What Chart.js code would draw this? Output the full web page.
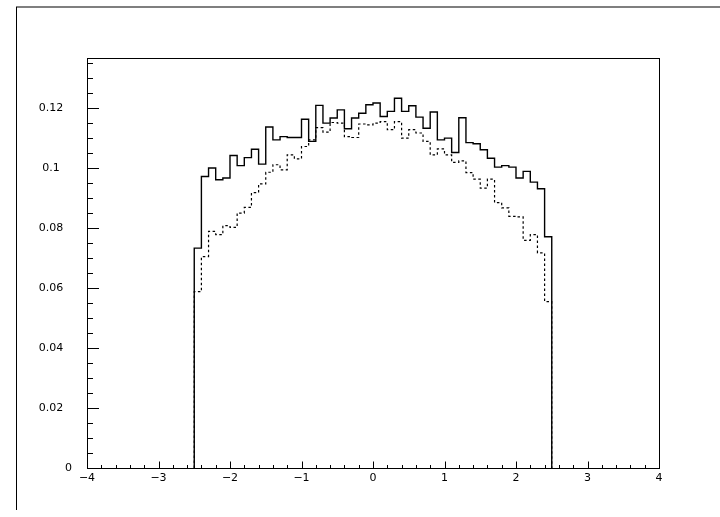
<!DOCTYPE html>
<html>
<head>
<meta charset="utf-8">
<script src="https://cdn.jsdelivr.net/npm/chart.js@4.4.1/dist/chart.umd.min.js"></script>
<style>
  html, body { margin: 0; padding: 0; background: #ffffff; }
  #wrap { width: 720px; height: 517px; position: relative; }
</style>
</head>
<body>
<div id="wrap"><canvas id="c" width="720" height="517"></canvas></div>
<script>
// ---- data ----
const binLowEdge = -2.5;
const binWidth = 0.1;

const solidValues = [
  0.0733, 0.0972, 0.1000, 0.0961, 0.0967, 0.1042, 0.1008, 0.1035, 0.1063, 0.1013,
  0.1137, 0.1094, 0.1105, 0.1102, 0.1102, 0.1163, 0.1089, 0.1209, 0.1150, 0.1167,
  0.1194, 0.1131, 0.1167, 0.1183, 0.1211, 0.1217, 0.1172, 0.1189, 0.1233, 0.1189,
  0.1208, 0.1170, 0.1133, 0.1187, 0.1094, 0.1100, 0.1052, 0.1168, 0.1085, 0.1081,
  0.1061, 0.1033, 0.1003, 0.1008, 0.1003, 0.0967, 0.0989, 0.0953, 0.0931, 0.0771
];

const dottedValues = [
  0.0588, 0.0705, 0.0789, 0.0778, 0.0808, 0.0802, 0.0850, 0.0869, 0.0918, 0.0947,
  0.0986, 0.1011, 0.0994, 0.1044, 0.1031, 0.1072, 0.1094, 0.1135, 0.1120, 0.1152,
  0.1150, 0.1105, 0.1102, 0.1147, 0.1144, 0.1150, 0.1155, 0.1128, 0.1155, 0.1100,
  0.1128, 0.1117, 0.1089, 0.1044, 0.1064, 0.1044, 0.1019, 0.1024, 0.0985, 0.0963,
  0.0933, 0.0963, 0.0885, 0.0867, 0.0839, 0.0837, 0.0759, 0.0778, 0.0717, 0.0555
];

const xTickValues = [-4, -3, -2, -1, 0, 1, 2, 3, 4];
const xTickLabels = ['\u22124', '\u22123', '\u22122', '\u22121', '0', '1', '2', '3', '4'];
const yTickValues = [0, 0.02, 0.04, 0.06, 0.08, 0.1, 0.12];
const yTickLabels = ['0', '0.02', '0.04', '0.06', '0.08', '0.1', '0.12'];

const xMin = -4, xMax = 4;
const yMin = 0, yMax = 0.1367;

// build step-histogram points from bin contents
function stepPoints(vals) {
  const pts = [{ x: binLowEdge, y: 0 }];
  vals.forEach((v, i) => pts.push({ x: +(binLowEdge + i * binWidth).toFixed(3), y: v }));
  pts.push({ x: +(binLowEdge + vals.length * binWidth).toFixed(3), y: 0 });
  return pts;
}

const FONT_CSS = '11px "DejaVu Sans"';

const framePlugin = {
  id: 'framePlugin',
  beforeDraw(chart) {
    const ctx = chart.ctx;
    ctx.save();
    ctx.fillStyle = '#ffffff';
    ctx.fillRect(0, 0, chart.width, chart.height);
    // outer page frame (top and left edges)
    ctx.strokeStyle = '#555555';
    ctx.lineWidth = 1.5;
    ctx.beginPath();
    ctx.moveTo(16, 7);
    ctx.lineTo(chart.width, 7);
    ctx.stroke();
    ctx.strokeStyle = '#000000';
    ctx.lineWidth = 1;
    ctx.beginPath();
    ctx.moveTo(16.5, 7);
    ctx.lineTo(16.5, 510);
    ctx.stroke();
    ctx.restore();
  },
  afterDatasetsDraw(chart) {
    const ctx = chart.ctx;
    const { left, right, top, bottom } = chart.chartArea;
    const xs = chart.scales.x, ys = chart.scales.y;
    ctx.save();
    ctx.strokeStyle = '#000000';
    ctx.lineWidth = 1;
    ctx.strokeRect(left + 0.5, top + 0.5, right - left, bottom - top);
    ctx.beginPath();
    // y ticks: minor every 0.005, major every 0.02 (inward)
    for (let k = 0; k <= 27; k++) {
      const v = k * 0.005;
      const py = Math.round(ys.getPixelForValue(v)) + 0.5;
      const len = (k % 4 === 0) ? 12 : 6;
      ctx.moveTo(left, py);
      ctx.lineTo(left + len, py);
    }
    // x ticks: minor every 0.2, major every 1 (inward)
    for (let k = 0; k <= 40; k++) {
      const v = xMin + k * 0.2;
      const px = Math.round(xs.getPixelForValue(v)) + 0.5;
      const len = (k % 5 === 0) ? 7 : 3.5;
      ctx.moveTo(px, bottom + 0.5);
      ctx.lineTo(px, bottom + 0.5 - len);
    }
    ctx.stroke();

    // tick labels placed through the scales
    ctx.fillStyle = '#000000';
    ctx.font = FONT_CSS;
    ctx.textBaseline = 'middle';
    yTickValues.forEach((v, i) => {
      const py = ys.getPixelForValue(v) + 0.5;
      if (v === 0) {
        ctx.textAlign = 'right';
        ctx.fillText(yTickLabels[i], left - 15, py);
      } else {
        ctx.textAlign = 'center';
        ctx.fillText(yTickLabels[i], 51, py);
      }
    });
    ctx.textAlign = 'center';
    xTickValues.forEach((v, i) => {
      const px = xs.getPixelForValue(v);
      ctx.fillText(xTickLabels[i], px, bottom + 10);
    });
    ctx.restore();
  }
};

new Chart(document.getElementById('c'), {
  type: 'line',
  data: {
    datasets: [
      {
        label: 'solid',
        data: stepPoints(solidValues),
        stepped: 'before',
        borderColor: '#000000',
        borderWidth: 1.4,
        pointRadius: 0,
        fill: false,
        tension: 0
      },
      {
        label: 'dotted',
        data: stepPoints(dottedValues),
        stepped: 'before',
        borderColor: '#000000',
        borderWidth: 1.2,
        borderDash: [2.5, 2.5],
        pointRadius: 0,
        fill: false,
        tension: 0
      }
    ]
  },
  options: {
    responsive: false,
    animation: false,
    devicePixelRatio: 1,
    layout: { padding: { top: 58, right: 61, bottom: 0, left: 0 } },
    plugins: { legend: { display: false }, tooltip: { enabled: false } },
    scales: {
      x: {
        type: 'linear',
        min: xMin, max: xMax,
        grid: { display: false },
        border: { display: false },
        afterBuildTicks: s => { s.ticks = xTickValues.map(v => ({ value: v })); },
        afterFit: s => { s.height = 49; },
        ticks: { display: false }
      },
      y: {
        type: 'linear',
        position: 'left',
        min: yMin, max: yMax,
        grid: { display: false },
        border: { display: false },
        afterBuildTicks: s => { s.ticks = yTickValues.map(v => ({ value: v })); },
        afterFit: s => { s.width = 87; },
        ticks: { display: false }
      }
    }
  },
  plugins: [framePlugin]
});
</script>
</body>
</html>
